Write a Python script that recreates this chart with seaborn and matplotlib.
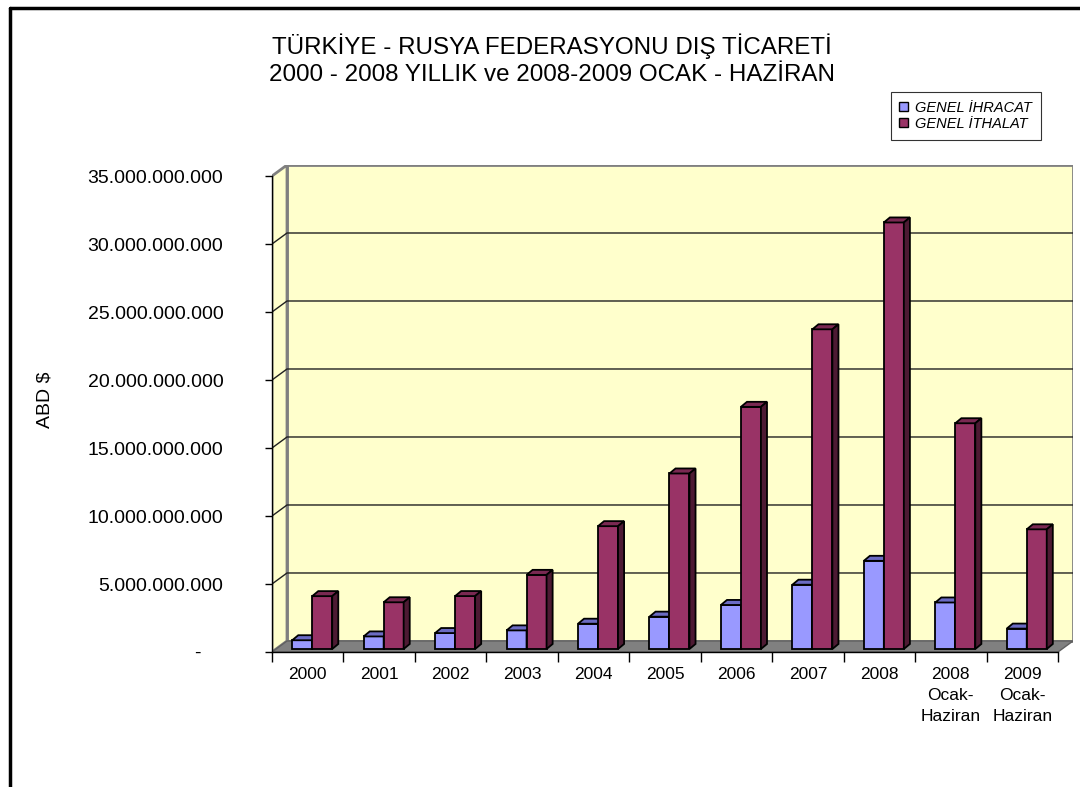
import numpy as np
import pandas as pd
import matplotlib
matplotlib.use('Agg')
import matplotlib.pyplot as plt
import seaborn as sns
from matplotlib.patches import Polygon, Rectangle
from matplotlib.lines import Line2D
from matplotlib.ticker import FuncFormatter

# veriler (ABD $)
yillar = ['2000', '2001', '2002', '2003', '2004', '2005', '2006', '2007', '2008',
          '2008\nOcak-\nHaziran', '2009\nOcak-\nHaziran']
ihracat = [644e6, 924e6, 1172e6, 1368e6, 1859e6, 2377e6, 3238e6, 4727e6, 6483e6, 3420e6, 1500e6]
ithalat = [3887e6, 3436e6, 3892e6, 5451e6, 9033e6, 12906e6, 17806e6, 23508e6, 31364e6, 16600e6, 8800e6]
seriler = ['GENEL İHRACAT', 'GENEL İTHALAT']
renkler = ['#9999FF', '#993366']
ust_renk = ['#6B6BC4', '#7A2952']
yan_renk = ['#4D4D80', '#4D1A33']

df = pd.DataFrame({
    'yil': yillar * 2,
    'deger': ihracat + ithalat,
    'seri': [seriler[0]] * len(yillar) + [seriler[1]] * len(yillar),
})

sns.set_style('white')
plt.rcParams['font.family'] = ['Liberation Sans', 'DejaVu Sans']
plt.rcParams['text.color'] = 'black'
plt.rcParams['xtick.color'] = 'black'
plt.rcParams['ytick.color'] = 'black'

fig = plt.figure(figsize=(10.8, 7.87), dpi=100)
ax = fig.add_axes([272 / 1080, 135 / 787, 801 / 1080, 487 / 787])

x0, x1 = -0.5, 10.5
ust = 35e9
wx, wy = 0.21, 0.81e9   # duvar derinligi
bx, by = 0.085, 0.37e9  # cubuk derinligi

# arka duvar, sol duvar, zemin
ax.add_patch(Polygon([(x0 + wx, wy), (x1 + wx, wy), (x1 + wx, ust + wy), (x0 + wx, ust + wy)],
                     fc='#FFFFCC', ec='#808080', lw=2, zorder=0))
ax.add_patch(Polygon([(x0, 0), (x0 + wx, wy), (x0 + wx, ust + wy), (x0, ust)],
                     fc='#FFFFCC', ec='#808080', lw=2, zorder=0))
ax.add_patch(Polygon([(x0, 0), (x1, 0), (x1 + wx, wy), (x0 + wx, wy)],
                     fc='#808080', ec='#606060', lw=1, zorder=0.5))
for v in np.arange(5e9, ust, 5e9):
    ax.plot([x0, x0 + wx, x1 + wx], [v, v + wy, v + wy], color='#202020', lw=1, zorder=0.6)

sns.barplot(data=df, x='yil', y='deger', hue='seri', palette=renkler, width=0.56,
            saturation=1, edgecolor='black', linewidth=1.3, legend=False, ax=ax)

# 3B gorunum: cubuklari zemin ortasina tasi, ust ve yan yuz ekle
sx = wx / 2 - bx / 2
sy = wy / 2 - by / 2
for k, cont in enumerate(ax.containers):
    for bar in cont:
        x, w, h = bar.get_x() + sx, bar.get_width(), bar.get_height()
        bar.set_x(x)
        bar.set_y(sy)
        bar.set_zorder(3 + k)
        y = sy
        ax.add_patch(Polygon([(x, y + h), (x + w, y + h), (x + w + bx, y + h + by), (x + bx, y + h + by)],
                             fc=ust_renk[k], ec='black', lw=1.3, zorder=3 + k))
        ax.add_patch(Polygon([(x + w, y), (x + w + bx, y + by), (x + w + bx, y + h + by), (x + w, y + h)],
                             fc=yan_renk[k], ec='black', lw=1.3, zorder=3 + k))

ax.set_xlim(x0, x1 + wx)
ax.set_ylim(0, ust + wy)
for s in ['top', 'right']:
    ax.spines[s].set_visible(False)
ax.spines['left'].set_bounds(0, ust)
ax.spines['bottom'].set_bounds(x0, x1)
for s in ['left', 'bottom']:
    ax.spines[s].set_color('black')
    ax.spines[s].set_linewidth(1)

ax.set_yticks(np.arange(0, ust + 1, 5e9))
ax.yaxis.set_major_formatter(FuncFormatter(
    lambda v, p: '-    ' if v == 0 else f'{int(round(v)):,}'.replace(',', '.')))
ax.tick_params(axis='y', left=True, length=5, width=1, color='black', pad=30, labelsize=14)
ax.set_xticks(np.arange(-0.5, 11, 1), minor=True)
ax.tick_params(axis='x', which='minor', bottom=True, length=7, width=1, color='black')
ax.tick_params(axis='x', which='major', bottom=False, length=0, pad=11, labelsize=12.5)
for lbl in ax.get_xticklabels():
    lbl.set_linespacing(1.5)
    lbl.set_va('top')
ax.set_xlabel('')
ax.set_ylabel('')

fig.text(45 / 1080, 1 - 400 / 787, 'ABD $', rotation=90, ha='center', va='center', fontsize=14)
fig.text(552 / 1080, 1 - 60 / 787,
         'TÜRKİYE - RUSYA FEDERASYONU DIŞ TİCARETİ\n2000 - 2008 YILLIK ve 2008-2009 OCAK - HAZİRAN',
         ha='center', va='center', fontsize=17.4, linespacing=1.3)

# lejant
tutamak = [Rectangle((0, 0), 1, 1, fc=c, ec='black', lw=1) for c in renkler]
leg = ax.legend(tutamak, seriler, loc='upper right', bbox_to_anchor=(1041 / 1080, 1 - 92 / 787),
                bbox_transform=fig.transFigure, frameon=True, fancybox=False, edgecolor='black',
                prop={'style': 'italic', 'size': 10.5}, handlelength=0.6, handleheight=0.6,
                handletextpad=0.5, borderpad=0.6, labelspacing=0.15, borderaxespad=0)
leg.get_frame().set_linewidth(0.8)
for t in leg.get_texts():
    t.set_color('black')

# dis cerceve
fig.add_artist(Line2D([10 / 1080, 10 / 1080], [0, 1 - 8 / 787], color='black', lw=2.5,
                      transform=fig.transFigure))
fig.add_artist(Line2D([10 / 1080, 1], [1 - 8 / 787, 1 - 8 / 787], color='black', lw=2.5,
                      transform=fig.transFigure))

fig.savefig('out.png', dpi=100)
